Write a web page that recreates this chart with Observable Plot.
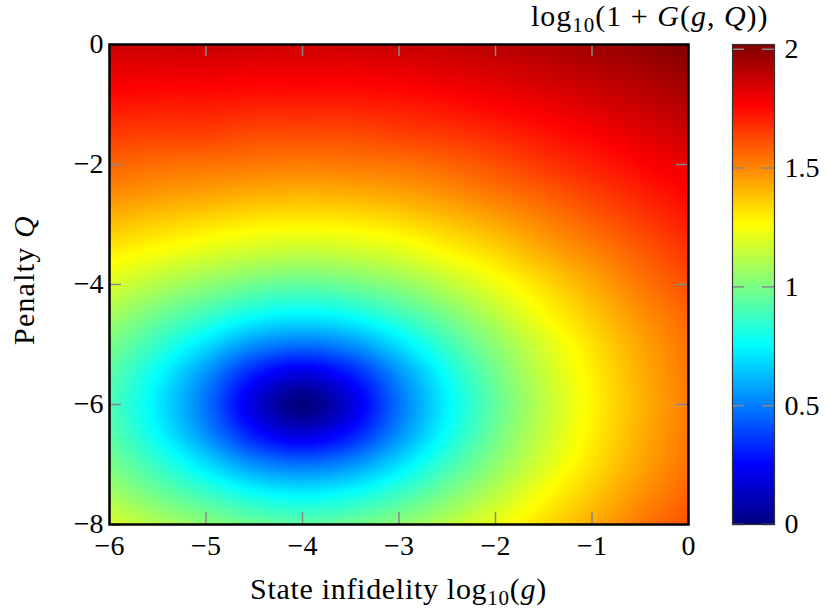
<!DOCTYPE html>
<html><head><meta charset="utf-8">
<script src="https://cdn.jsdelivr.net/npm/d3@7"></script>
<script src="https://cdn.jsdelivr.net/npm/@observablehq/plot@0.6"></script>
<style>
html,body{margin:0;padding:0;background:#fff;}
#wrap{position:relative;width:827px;height:615px;font-family:"Liberation Serif",serif;color:#000;overflow:hidden;}
#wrap svg{position:absolute;top:0;}
#wrap svg text{font-family:"Liberation Serif",serif !important;}
.lbl{position:absolute;white-space:nowrap;line-height:1;}
.lbl sub{font-size:70%;vertical-align:-0.3em;line-height:0;}
</style></head><body><div id="wrap"></div>
<script>
// ---- data ----
const xValues = [-6,-5.5,-5,-4.5,-4,-3.5,-3,-2.5,-2,-1.5,-1,-0.5,0];   // log10(g)
const yValues = [0,-0.5,-1,-1.5,-2,-2.5,-3,-3.5,-4,-4.5,-5,-5.5,-6,-6.5,-7,-7.5,-8]; // Q
const rowQ0    = [1.87,1.87,1.88,1.87,1.86,1.87,1.88,1.89,1.91,1.93,1.96,1.99,2.02];
const rowQm0_5 = [1.80,1.80,1.80,1.79,1.79,1.79,1.80,1.82,1.84,1.87,1.90,1.93,1.97];
const rowQm1   = [1.73,1.72,1.72,1.71,1.71,1.71,1.72,1.74,1.77,1.80,1.84,1.88,1.92];
const rowQm1_5 = [1.65,1.64,1.64,1.62,1.62,1.62,1.64,1.66,1.69,1.73,1.77,1.82,1.87];
const rowQm2   = [1.57,1.55,1.54,1.53,1.52,1.53,1.54,1.57,1.61,1.66,1.71,1.76,1.81];
const rowQm2_5 = [1.49,1.46,1.44,1.42,1.41,1.42,1.44,1.48,1.53,1.58,1.64,1.70,1.76];
const rowQm3   = [1.39,1.35,1.32,1.29,1.28,1.29,1.32,1.37,1.43,1.50,1.57,1.64,1.71];
const rowQm3_5 = [1.29,1.24,1.19,1.15,1.13,1.15,1.19,1.26,1.33,1.42,1.50,1.58,1.66];
const rowQm4   = [1.19,1.11,1.04,0.98,0.95,0.98,1.04,1.13,1.23,1.33,1.43,1.53,1.61];
const rowQm4_5 = [1.09,0.98,0.88,0.78,0.74,0.78,0.88,1.00,1.13,1.26,1.37,1.48,1.57];
const rowQm5   = [1.00,0.86,0.70,0.54,0.48,0.54,0.70,0.88,1.04,1.19,1.32,1.44,1.54];
const rowQm5_5 = [0.94,0.76,0.54,0.30,0.18,0.30,0.54,0.78,0.98,1.15,1.29,1.42,1.53];
const rowQm6   = [0.91,0.72,0.48,0.18,0.00,0.18,0.48,0.74,0.95,1.13,1.28,1.41,1.52];
const rowQm6_5 = [0.94,0.76,0.54,0.30,0.18,0.30,0.54,0.78,0.98,1.15,1.29,1.42,1.53];
const rowQm7   = [1.00,0.86,0.70,0.54,0.48,0.54,0.70,0.88,1.04,1.19,1.32,1.44,1.54];
const rowQm7_5 = [1.09,0.98,0.88,0.78,0.74,0.78,0.88,1.00,1.13,1.26,1.37,1.48,1.57];
const rowQm8   = [1.19,1.11,1.04,0.98,0.95,0.98,1.04,1.13,1.23,1.33,1.43,1.53,1.61];
const zRows = [rowQ0,rowQm0_5,rowQm1,rowQm1_5,rowQm2,rowQm2_5,rowQm3,rowQm3_5,rowQm4,
               rowQm4_5,rowQm5,rowQm5_5,rowQm6,rowQm6_5,rowQm7,rowQm7_5,rowQm8];
const xTicks = [-6,-5,-4,-3,-2,-1,0];
const yTicks = [0,-2,-4,-6,-8];
const colorTicks = [0,0.5,1,1.5,2];
const colorMax = 2.02;
const jetColors = ["#000080","#0000ff","#00ffff","#ffff00","#ff0000","#800000"];
const jetStops = [0,1/8,3/8,5/8,7/8,1];

// ---- smooth (Catmull-Rom) sampling of the grid, in value space ----
const nx = xValues.length, ny = yValues.length;
function at(i,j){
  if (i < 0) return 2*at(0,j) - at(1,j);
  if (i > nx-1) return 2*at(nx-1,j) - at(nx-2,j);
  if (j < 0) return 2*at(i,0) - at(i,1);
  if (j > ny-1) return 2*at(i,ny-1) - at(i,ny-2);
  return zRows[j][i];
}
function cr(p0,p1,p2,p3,t){
  return 0.5*(2*p1 + (-p0+p2)*t + (2*p0-5*p1+4*p2-p3)*t*t + (-p0+3*p1-3*p2+p3)*t*t*t);
}
function sampleGrid(x,y){
  const fx = (x - xValues[0])/(xValues[1]-xValues[0]);
  const fy = (y - yValues[0])/(yValues[1]-yValues[0]);
  const i = Math.min(Math.max(Math.floor(fx),0),nx-2);
  const j = Math.min(Math.max(Math.floor(fy),0),ny-2);
  const tx = fx - i, ty = fy - j;
  const r = [-1,0,1,2].map(dj => cr(at(i-1,j+dj),at(i,j+dj),at(i+1,j+dj),at(i+2,j+dj),tx));
  return Math.max(0, Math.min(colorMax, cr(r[0],r[1],r[2],r[3],ty)));
}

const fmt = d3.format("~g");
const colorScale = {type:"linear", domain: jetStops.map(s => s*colorMax), range: jetColors, interpolate:"rgb"};
const font = {fontFamily:"'Liberation Serif', serif", fontSize:"28px", background:"transparent", overflow:"visible"};

const W = 827, H = 615;
const mL = 109, mR = 139, mT = 44, mB = 91;
const frameW = W - mL - mR, frameH = H - mT - mB;
const tickLen = 12;

const main = Plot.plot({
  width: W, height: H,
  marginLeft: mL, marginRight: mR, marginTop: mT, marginBottom: mB,
  style: font,
  x: {domain:[-6,0]},
  y: {domain:[-8,0]},
  color: colorScale,
  marks: [
    Plot.raster({fill:(x,y)=>sampleGrid(x,y), x1:-6, x2:0, y1:0, y2:-8, pixelSize:1}),
    Plot.tickX(xTicks,{x:d=>d, stroke:"#888", strokeWidth:1.5, insetTop: frameH - tickLen}),
    Plot.tickX(xTicks,{x:d=>d, stroke:"#888", strokeWidth:1.5, insetBottom: frameH - tickLen}),
    Plot.tickY(yTicks,{y:d=>d, stroke:"#888", strokeWidth:1.5, insetRight: frameW - tickLen}),
    Plot.tickY(yTicks,{y:d=>d, stroke:"#888", strokeWidth:1.5, insetLeft: frameW - tickLen}),
    Plot.frame({stroke:"#000", strokeWidth:2.5}),
    Plot.axisX({ticks:xTicks, tickFormat:fmt, tickSize:0, tickPadding:11, label:null, fontSize:28}),
    Plot.axisY({ticks:yTicks, tickFormat:fmt, tickSize:0, tickPadding:6, label:null, fontSize:28})
  ]
});

const cbW = 42, cbLeft = 732, cbRight = 53;
const cbar = Plot.plot({
  width: cbW + cbRight, height: H,
  marginLeft: 0, marginRight: cbRight, marginTop: mT, marginBottom: mB,
  style: font,
  x: {domain:[0,1], axis:null},
  y: {domain:[0,colorMax]},
  color: colorScale,
  marks: [
    Plot.raster({fill:(x,y)=>y, x1:0, x2:1, y1:0, y2:colorMax, pixelSize:1}),
    Plot.tickY(colorTicks,{y:d=>d, stroke:"#888", strokeWidth:1.5, insetRight: cbW - tickLen}),
    Plot.tickY(colorTicks,{y:d=>d, stroke:"#888", strokeWidth:1.5, insetLeft: cbW - tickLen}),
    Plot.frame({stroke:"#333", strokeWidth:1.2}),
    Plot.axisY({anchor:"right", ticks:colorTicks, tickFormat:fmt, tickSize:0, tickPadding:10, label:null, fontSize:28})
  ]
});

const wrap = document.getElementById("wrap");
main.style.left = "0px";
wrap.appendChild(main);
cbar.style.left = cbLeft + "px";
wrap.appendChild(cbar);

function addLabel(html, css){
  const d = document.createElement("div");
  d.className = "lbl";
  d.innerHTML = html;
  Object.assign(d.style, css);
  wrap.appendChild(d);
  return d;
}
// x-axis label
const xl = addLabel('State infidelity log<sub>10</sub>(<i>g</i>)', {fontSize:"30px", letterSpacing:"0.7px", top:"574px"});
xl.style.left = (mL + frameW/2 - xl.offsetWidth/2) + "px";
// y-axis label (rotated)
const yl = addLabel('Penalty <i>Q</i>', {fontSize:"30px", letterSpacing:"1.2px"});
yl.style.left = (24 - yl.offsetWidth/2) + "px";
yl.style.top = (mT + frameH/2 - 4 - yl.offsetHeight/2) + "px";
yl.style.transform = "rotate(-90deg)";
// colorbar title
const tl = addLabel('log<sub>10</sub>(1 + <i>G</i>(<i>g</i>, <i>Q</i>))', {fontSize:"30px", letterSpacing:"1px", top:"1px"});
tl.style.left = (769 - tl.offsetWidth) + "px";
</script></body></html>
